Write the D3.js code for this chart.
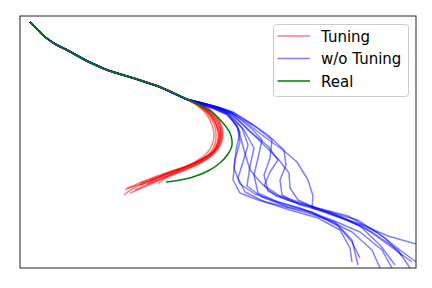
<!DOCTYPE html>
<html>
<head>
<meta charset="utf-8">
<script src="https://cdn.jsdelivr.net/npm/d3@7"></script>
<style>
  html, body { margin: 0; padding: 0; background: #fff; }
  svg { display: block; font-family: "DejaVu Sans", sans-serif; }
</style>
</head>
<body>
<svg width="432" height="288"></svg>
<script>
"use strict";

// shared part of every trajectory (history)
const trunk = [[5, 123], [8.5, 119.5], [12.5, 115.5], [17.5, 112], [23.5, 109], [33.5, 103.5],
    [43.5, 99], [56.5, 95], [70, 90.5], [83, 84.5]];

const realFuture = [[90, 81.5], [96.5, 77.5], [101.5, 72.5], [105, 67.5], [106, 61.5], [104, 57],
    [100, 52.5], [94, 48.5], [86.5, 45.5], [80, 44], [73, 43]];

const tuningFutures = [
    [[90.5, 81.5], [96, 78], [99.5, 73.5], [101, 68.5], [100.5, 63.5], [98, 59], [92.5, 55], [85, 51.5], [76, 48.5], [66, 45], [57.5, 41.5], [52.5, 39]],
    [[90, 81.5], [95, 77.5], [98.5, 73], [100, 68], [99.5, 63], [97, 58.5], [91.5, 54.5], [84, 51], [75, 47.5], [65, 43.5], [56, 39.5], [52, 36.5]],
    [[89.5, 81], [94.5, 77], [97.5, 72.5], [99, 67.5], [98.5, 62.5], [96, 58], [90, 54], [82.5, 50.5], [73.5, 47], [65, 43.5], [57.5, 41], [53.5, 40]],
    [[89.5, 81], [94, 77], [97, 72], [98, 67], [97.5, 62], [95, 57.5], [89.5, 53.5], [82, 50], [73, 46.5], [65, 43.5], [60, 41.5]],
    [[90, 81.5], [95.5, 77.5], [99, 72.5], [100.5, 67], [99.5, 61.5], [96.5, 57], [90.5, 53], [83, 49.5], [75, 46.5], [68.5, 44], [63.5, 42]],
    [[89, 81], [93.5, 76.5], [96, 71.5], [97, 66.5], [96, 61.5], [93, 57], [87.5, 53], [81, 49.5], [76, 47], [72, 44.5], [69, 42]],
    [[90.5, 82], [96.5, 78], [100, 73], [101.5, 67.5], [100.5, 62], [97.5, 57.5], [92, 53.5], [85, 50], [77.5, 47], [69, 43.5], [61, 40], [55, 37.5]],
    [[90, 81], [95, 77], [98, 72], [99.5, 66.5], [98.5, 61], [95.5, 56.5], [89.5, 52.5], [81.5, 49], [72.5, 45.5], [64, 42], [57.5, 39]],
    [[89.5, 81.5], [94.5, 77.5], [98, 72.5], [99.5, 67.5], [99, 62.5], [96.5, 58], [91, 54], [83.5, 50.5], [74, 47.5], [66, 44.5], [60, 42.5]],
    [[90, 81.5], [95.5, 78], [99, 73.5], [100.5, 68.5], [100, 63.5], [97.5, 59], [92, 55], [85, 51.5], [77.5, 49], [72.5, 47], [65, 44]]
];

const noTuningFutures = [
    [[91, 82.5], [98, 80.5], [105, 78], [114, 72], [123, 65], [131.5, 59], [138.5, 53], [144, 44], [146.5, 36], [146, 30], [157.5, 26], [170, 22], [184, 16], [198, 12]],
    [[91, 82.5], [98.5, 80], [105, 77.5], [113, 70.5], [121, 62.5], [129.5, 54], [134.5, 47.5], [135, 40], [139, 34], [149, 29.5], [162.5, 24.5], [176, 18], [189, 9], [195, 0]],
    [[90, 82], [97, 79.5], [103, 77], [108.5, 71.5], [110, 63], [107.5, 54], [106.5, 44], [110, 37.5], [119, 34], [131, 31], [144, 27.5], [157.5, 23], [166, 14], [169, 1.5]],
    [[90.5, 82], [97.5, 80], [104, 77], [111, 70], [114, 61.5], [111.5, 53], [109, 45], [112.5, 38], [122.5, 33], [135, 29], [149, 25], [160, 19], [165, 10], [166, 3]],
    [[91, 82.5], [98.5, 80.5], [105.5, 78], [116, 69.5], [121, 64], [119, 55], [117, 46.5], [119, 37.5], [130, 32.5], [142.5, 29], [156, 24], [170, 18], [181, 9], [186, 0]],
    [[91, 82.5], [99, 80.5], [106.5, 77.5], [118, 70.5], [126, 64], [125, 55], [122, 46.5], [124, 38.5], [135, 33.5], [149, 30], [164, 26], [179, 17.5], [190, 9], [198, 3]],
    [[90.5, 82], [98, 80], [104.5, 77], [110, 68], [108, 59], [107, 50], [110, 42], [117.5, 37], [127.5, 33.5], [140, 30], [154, 24], [166, 18], [176, 9], [180, 0]],
    [[91, 82.5], [99, 80.5], [106.5, 78], [116, 72], [124, 66.5], [132, 59], [133, 51.5], [130, 44], [131, 36.5], [140, 31.5], [154, 28], [169, 24], [182.5, 15], [191, 6]],
    [[90.5, 82.5], [98, 80], [105, 77], [112, 69], [117, 60], [115, 51], [113.5, 41], [121, 35.5], [134, 30.5], [146, 28], [159, 21], [166, 13], [170, 5]],
    [[91, 82.5], [98.5, 80], [106, 77], [115, 68], [124, 61], [129, 54], [125, 48], [122, 41], [128, 36], [140, 32], [155, 28], [171, 21], [185, 11], [196, 3]],
    [[90.5, 82], [97.5, 79.5], [104, 76.5], [109, 70], [112, 59], [115, 49], [121, 42], [130, 36], [141, 32.5], [156, 27], [170, 21], [180, 11.5], [187.5, 1.5]]
];

const legendLabels = ["Tuning", "w/o Tuning", "Real"];
const legendColors = ["red", "blue", "green"];
const legendAlpha = [0.5, 0.5, 1];

const xDomain = [0, 198];
const yDomain = [0, 126];

const margin = {left: 20, top: 16, right: 16, bottom: 20};
const width = 432, height = 288;

const svg = d3.select("svg");
const xScale = d3.scaleLinear().domain(xDomain).range([margin.left, width - margin.right]);
const yScale = d3.scaleLinear().domain(yDomain).range([height - margin.bottom, margin.top]);

svg.append("defs").append("clipPath").attr("id", "clip")
    .append("rect")
    .attr("x", margin.left).attr("y", margin.top)
    .attr("width", width - margin.left - margin.right)
    .attr("height", height - margin.top - margin.bottom);

const smoothLine = d3.line().x(d => xScale(d[0])).y(d => yScale(d[1])).curve(d3.curveCatmullRom);
const rawLine = d3.line().x(d => xScale(d[0])).y(d => yScale(d[1]));
const plot = svg.append("g").attr("clip-path", "url(#clip)");

function drawSet(futures, color, alpha, lineFn) {
    plot.append("g").selectAll("path")
        .data(futures)
        .join("path")
        .attr("d", f => lineFn(trunk.concat(f)))
        .attr("fill", "none")
        .attr("stroke", color)
        .attr("stroke-opacity", alpha)
        .attr("stroke-width", 1.5)
        .attr("stroke-linejoin", "round");
}

drawSet(tuningFutures, "red", 0.5, smoothLine);
drawSet(noTuningFutures, "blue", 0.5, rawLine);
drawSet([realFuture], "green", 1, smoothLine);

// frame
svg.append("rect")
    .attr("x", margin.left).attr("y", margin.top)
    .attr("width", width - margin.left - margin.right)
    .attr("height", height - margin.top - margin.bottom)
    .attr("fill", "none").attr("stroke", "#222").attr("stroke-width", 1);

// legend
const lg = svg.append("g").attr("transform", "translate(273.5,24.5)");
lg.append("rect")
    .attr("width", 135).attr("height", 72).attr("rx", 3)
    .attr("fill", "white").attr("fill-opacity", 0.8)
    .attr("stroke", "#ccc").attr("stroke-width", 1);
const rows = lg.selectAll("g.row").data(legendLabels).join("g")
    .attr("class", "row")
    .attr("transform", (d, i) => `translate(0,${11.5 + i * 22.5})`);
rows.append("line")
    .attr("x1", 4).attr("x2", 36.5)
    .attr("stroke", (d, i) => legendColors[i])
    .attr("stroke-opacity", (d, i) => legendAlpha[i])
    .attr("stroke-width", 1.5);
rows.append("text")
    .attr("x", 47.5).attr("y", 5.5)
    .attr("font-size", 15)
    .attr("fill", "#000")
    .text(d => d);
</script>
</body>
</html>
